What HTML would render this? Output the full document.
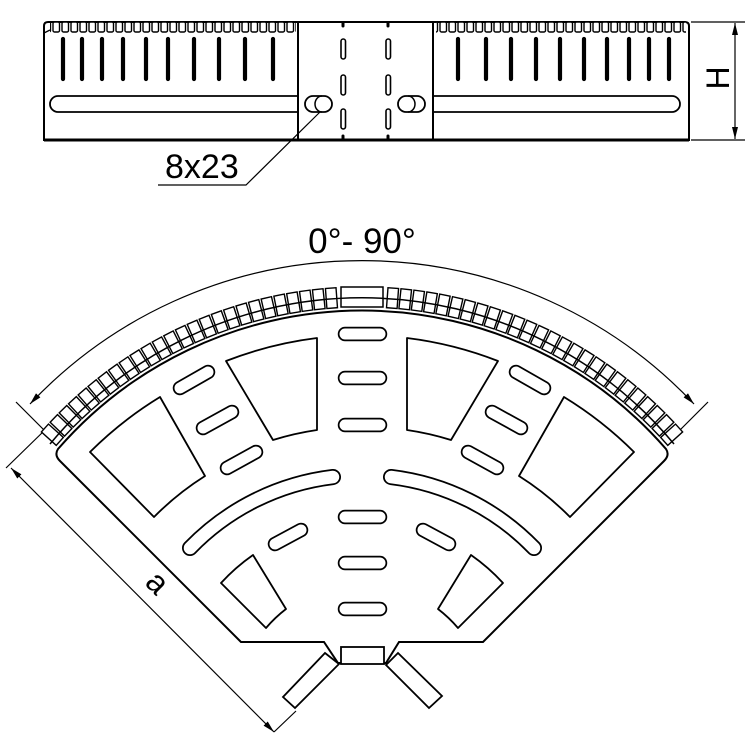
<!DOCTYPE html>
<html><head><meta charset="utf-8"><style>
html,body{margin:0;padding:0;background:#fff;}
svg{display:block;}
text{font-family:"Liberation Sans",Arial,sans-serif;fill:#000;}
</style></head><body>
<svg width="746" height="741" viewBox="0 0 746 741" xmlns="http://www.w3.org/2000/svg">
<defs>
<marker id="ar" viewBox="0 0 12 6" refX="12" refY="3" markerWidth="12" markerHeight="6" markerUnits="userSpaceOnUse" orient="auto-start-reverse">
<path d="M0,0 L12,3 L0,6 Z" fill="#000"/></marker>
<g id="tooth"><rect x="356.7" y="287" width="10.6" height="20" fill="#fff" stroke="#000" stroke-width="1.4"/></g>
<pattern id="notch" x="52" y="0" width="9" height="40" patternUnits="userSpaceOnUse">
<rect x="1" y="22" width="6.5" height="10" rx="1.5" fill="#fff" stroke="#000" stroke-width="1.4"/></pattern>
</defs>

<!-- ===== TOP VIEW ===== -->
<g fill="none" stroke="#000" stroke-width="2">
<path d="M44,140 L44,26 Q44,22 48,22 L298,22 L298,140 Z" fill="#fff"/>
<path d="M433,22 L685,22 Q689,22 689,26 L689,140 L433,140 Z" fill="#fff"/>
<rect x="298" y="22" width="135" height="118" fill="#fff"/>
<line x1="44" y1="140" x2="689" y2="140" stroke-width="3"/>
</g>
<rect x="50" y="20" width="246" height="14" fill="url(#notch)"/>
<rect x="436" y="20" width="250" height="14" fill="url(#notch)"/>
<line x1="44" y1="33" x2="50" y2="30" stroke="#000" stroke-width="1.3"/>
<g stroke="#000" stroke-width="4.2" stroke-linecap="round">
<path d="M63,39V79 M82,39V79 M102,39V79 M123,39V79 M146,39V79 M168,39V79 M194,39V79 M219,39V79 M245,39V79 M273,39V79"/>
<path d="M458,39V79 M486,39V79 M511,39V79 M536,39V79 M560,39V79 M584,39V79 M607,39V79 M629,39V79 M649,39V79 M669,39V79"/>
</g>
<g fill="#fff" stroke="#000" stroke-width="1.6">
<rect x="341" y="39" width="4.5" height="20" rx="2.2"/><rect x="341" y="75" width="4.5" height="20" rx="2.2"/><rect x="341" y="109" width="4.5" height="20" rx="2.2"/>
<rect x="386" y="39" width="4.5" height="20" rx="2.2"/><rect x="386" y="75" width="4.5" height="20" rx="2.2"/><rect x="386" y="109" width="4.5" height="20" rx="2.2"/>
</g>
<g stroke="#000" stroke-width="3" stroke-linecap="round"><path d="M343,23v3 M343,136v3 M388,23v3 M388,136v3"/></g>
<path d="M297,96 L58,96 A8,8 0 0 0 58,112 L297,112" fill="none" stroke="#000" stroke-width="1.8"/>
<path d="M434,96 L672,96 A8,8 0 0 1 672,112 L434,112" fill="none" stroke="#000" stroke-width="1.8"/>
<rect x="305" y="96" width="27" height="16" rx="8" fill="none" stroke="#000" stroke-width="1.8"/>
<path d="M322,96 A7,8 0 0 0 322,112" fill="none" stroke="#000" stroke-width="1.5"/>
<rect x="398" y="96" width="27" height="16" rx="8" fill="none" stroke="#000" stroke-width="1.8"/>
<path d="M408,96 A7,8 0 0 1 408,112" fill="none" stroke="#000" stroke-width="1.5"/>
<path d="M320,112 L246,185 L158,185" fill="none" stroke="#000" stroke-width="1.2"/>
<text x="165" y="178" font-size="34">8x23</text>
<g stroke="#000" stroke-width="1.2">
<line x1="691" y1="22" x2="745" y2="22"/><line x1="691" y1="140" x2="745" y2="140"/>
<line x1="735" y1="23" x2="735" y2="139" marker-start="url(#ar)" marker-end="url(#ar)"/>
</g>
<text transform="translate(729,78) rotate(-90)" text-anchor="middle" font-size="32">H</text>

<!-- ===== FAN VIEW ===== -->
<text x="362" y="253" text-anchor="middle" font-size="35">0°- 90°</text>
<g fill="none" stroke="#000" stroke-width="1.2">
<path d="M30,404 A456,456 0 0 1 694,404" marker-start="url(#ar)" marker-end="url(#ar)"/>
<line x1="16" y1="402" x2="46" y2="432"/><line x1="708" y1="402" x2="678" y2="432"/>
<line x1="11" y1="468" x2="274" y2="732" marker-start="url(#ar)" marker-end="url(#ar)"/>
<line x1="6" y1="468" x2="46" y2="429"/><line x1="274" y1="732" x2="296" y2="711"/>
</g>
<text transform="translate(150,590) rotate(45)" text-anchor="middle" font-size="32">a</text>

<!-- teeth -->
<g>
<use href="#tooth" transform="rotate(4.2 362 714)"/><use href="#tooth" transform="rotate(5.95 362 714)"/><use href="#tooth" transform="rotate(7.7 362 714)"/><use href="#tooth" transform="rotate(9.45 362 714)"/><use href="#tooth" transform="rotate(11.2 362 714)"/><use href="#tooth" transform="rotate(12.95 362 714)"/><use href="#tooth" transform="rotate(14.7 362 714)"/><use href="#tooth" transform="rotate(16.45 362 714)"/><use href="#tooth" transform="rotate(18.2 362 714)"/><use href="#tooth" transform="rotate(19.95 362 714)"/><use href="#tooth" transform="rotate(21.7 362 714)"/><use href="#tooth" transform="rotate(23.45 362 714)"/><use href="#tooth" transform="rotate(25.2 362 714)"/><use href="#tooth" transform="rotate(26.95 362 714)"/><use href="#tooth" transform="rotate(28.7 362 714)"/><use href="#tooth" transform="rotate(30.45 362 714)"/><use href="#tooth" transform="rotate(32.2 362 714)"/><use href="#tooth" transform="rotate(33.95 362 714)"/><use href="#tooth" transform="rotate(35.7 362 714)"/><use href="#tooth" transform="rotate(37.45 362 714)"/><use href="#tooth" transform="rotate(39.2 362 714)"/><use href="#tooth" transform="rotate(40.95 362 714)"/><use href="#tooth" transform="rotate(42.7 362 714)"/><use href="#tooth" transform="rotate(44.45 362 714)"/><use href="#tooth" transform="rotate(46.2 362 714)"/><use href="#tooth" transform="rotate(47.95 362 714)"/>
<use href="#tooth" transform="rotate(-4.2 362 714)"/><use href="#tooth" transform="rotate(-5.95 362 714)"/><use href="#tooth" transform="rotate(-7.7 362 714)"/><use href="#tooth" transform="rotate(-9.45 362 714)"/><use href="#tooth" transform="rotate(-11.2 362 714)"/><use href="#tooth" transform="rotate(-12.95 362 714)"/><use href="#tooth" transform="rotate(-14.7 362 714)"/><use href="#tooth" transform="rotate(-16.45 362 714)"/><use href="#tooth" transform="rotate(-18.2 362 714)"/><use href="#tooth" transform="rotate(-19.95 362 714)"/><use href="#tooth" transform="rotate(-21.7 362 714)"/><use href="#tooth" transform="rotate(-23.45 362 714)"/><use href="#tooth" transform="rotate(-25.2 362 714)"/><use href="#tooth" transform="rotate(-26.95 362 714)"/><use href="#tooth" transform="rotate(-28.7 362 714)"/><use href="#tooth" transform="rotate(-30.45 362 714)"/><use href="#tooth" transform="rotate(-32.2 362 714)"/><use href="#tooth" transform="rotate(-33.95 362 714)"/><use href="#tooth" transform="rotate(-35.7 362 714)"/><use href="#tooth" transform="rotate(-37.45 362 714)"/><use href="#tooth" transform="rotate(-39.2 362 714)"/><use href="#tooth" transform="rotate(-40.95 362 714)"/><use href="#tooth" transform="rotate(-42.7 362 714)"/><use href="#tooth" transform="rotate(-44.45 362 714)"/><use href="#tooth" transform="rotate(-46.2 362 714)"/><use href="#tooth" transform="rotate(-47.95 362 714)"/>
</g>
<rect x="341" y="287" width="42" height="20" fill="#fff" stroke="#000" stroke-width="1.5"/>
<path d="M50,444 A406,406 0 0 1 674,444" fill="none" stroke="#000" stroke-width="1.5"/>

<!-- plate outline -->
<path d="M241,642 L60,461 Q54,455 58,449 A403,403 0 0 1 666,449 Q670,455 664,461 L483,642 L399,642 L386,663 L338,663 L324,642 Z" fill="#fff" stroke="#000" stroke-width="2"/>
<rect x="341" y="647" width="43" height="17" fill="#fff" stroke="#000" stroke-width="1.8"/>
<path d="M283,697 L295,708 L339,664 L325,653 Z" fill="#fff" stroke="#000" stroke-width="1.8"/>
<path d="M398,653 L386,665 L429,708 L442,696 Z" fill="#fff" stroke="#000" stroke-width="1.8"/>

<!-- trapezoid cutouts -->
<g fill="none" stroke="#000" stroke-width="1.8" stroke-linejoin="round">
<path d="M226,361 A378,378 0 0 1 317,338 L317,430 A288,288 0 0 0 273,440 Z"/>
<path d="M498,361 A378,378 0 0 0 407,338 L407,430 A288,288 0 0 1 451,440 Z"/>
<path d="M90,452 A377,377 0 0 1 160,397 L205,476 A286,286 0 0 0 154,517 Z"/>
<path d="M634,452 A377,377 0 0 0 564,397 L519,476 A286,286 0 0 1 570,517 Z"/>
<path d="M221,583 A193,193 0 0 1 253,555 L286,609 A129,129 0 0 0 266,628 Z"/>
<path d="M503,583 A193,193 0 0 0 471,555 L438,609 A129,129 0 0 1 458,628 Z"/>
</g>

<!-- slots -->
<g fill="none" stroke-linecap="round">
<g stroke="#000" stroke-width="14.5">
<path d="M345,334H380 M345,378H380 M345,425H380 M345,517H380 M345,563H380 M345,609H380"/>
<path d="M180,388L208,372 M203,428L232,412 M227,468L256,452 M544,388L516,372 M521,428L492,412 M497,468L468,452"/>
<path d="M275,544L301,530 M449,544L423,530"/>
<path d="M190,548 A239,239 0 0 1 333,477 M391,477 A239,239 0 0 1 534,548" stroke-width="16"/>
</g>
<g stroke="#fff" stroke-width="11">
<path d="M345,334H380 M345,378H380 M345,425H380 M345,517H380 M345,563H380 M345,609H380"/>
<path d="M180,388L208,372 M203,428L232,412 M227,468L256,452 M544,388L516,372 M521,428L492,412 M497,468L468,452"/>
<path d="M275,544L301,530 M449,544L423,530"/>
<path d="M190,548 A239,239 0 0 1 333,477 M391,477 A239,239 0 0 1 534,548" stroke-width="12.5"/>
</g>
</g>
</svg>
</body></html>
